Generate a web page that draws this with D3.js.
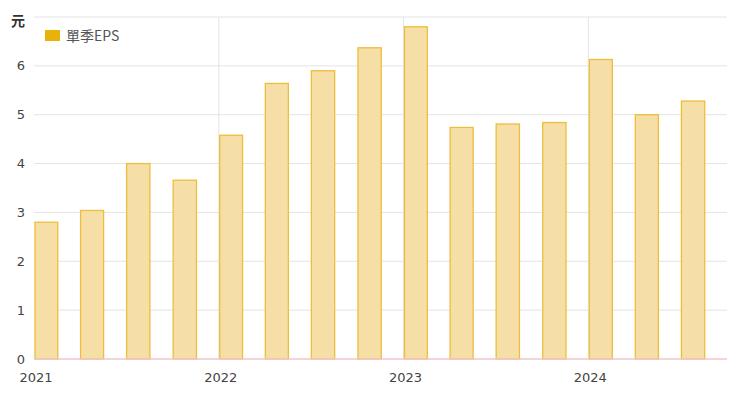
<!DOCTYPE html>
<html>
<head>
<meta charset="utf-8">
<script src="https://cdn.jsdelivr.net/npm/d3@7"></script>
<style>
  body { margin: 0; background: #fff; }
  text { font-family: "DejaVu Sans", "Noto Sans CJK TC", sans-serif; }
</style>
</head>
<body>
<div id="chart"></div>
<script>
// quarter start dates and single-quarter EPS (元)
const quarters = ["2021-01-01","2021-04-01","2021-07-01","2021-10-01",
                  "2022-01-01","2022-04-01","2022-07-01","2022-10-01",
                  "2023-01-01","2023-04-01","2023-07-01","2023-10-01",
                  "2024-01-01","2024-04-01","2024-07-01"];
const eps = [2.80, 3.04, 4.00, 3.66, 4.58, 5.64, 5.90, 6.37, 6.80, 4.74, 4.81, 4.84, 6.13, 5.00, 5.28];
const yTicks = [0, 1, 2, 3, 4, 5, 6, 7];
const yearTicks = ["2021-01-01", "2022-01-01", "2023-01-01", "2024-01-01"];
const seriesName = "單季EPS";
const unitLabel = "元";

const parse = d3.timeParse("%Y-%m-%d");
const data = quarters.map((q, i) => ({ date: parse(q), value: eps[i] }));

const width = 740, height = 395;
const margin = { top: 17, right: 13, bottom: 36, left: 34 };
const chartWidth = width - margin.left - margin.right;
const chartHeight = height - margin.top - margin.bottom;

const svg = d3.select("#chart").append("svg")
    .attr("width", width)
    .attr("height", height);

const g = svg.append("g")
    .attr("transform", `translate(${margin.left},${margin.top})`);

const x = d3.scaleTime()
    .domain([parse("2021-01-01"), parse("2024-10-01")])
    .range([0, chartWidth]);

const y = d3.scaleLinear()
    .domain([0, 7])
    .range([chartHeight, 0]);

// horizontal grid
g.selectAll("line.hgrid")
    .data(yTicks.filter(d => d > 0))
    .enter().append("line")
    .attr("class", "hgrid")
    .attr("x1", 0).attr("x2", chartWidth)
    .attr("y1", d => y(d)).attr("y2", d => y(d))
    .attr("stroke", "#e4e4e4")
    .attr("stroke-width", 1);

// vertical grid at years
g.selectAll("line.vgrid")
    .data(yearTicks.slice(1).map(parse))
    .enter().append("line")
    .attr("class", "vgrid")
    .attr("x1", d => x(d)).attr("x2", d => x(d))
    .attr("y1", 0).attr("y2", chartHeight)
    .attr("stroke", "#e4e4e4")
    .attr("stroke-width", 1);

// bars: each takes the first half of its quarter
const quarterWidth = d => x(d3.timeMonth.offset(d, 3)) - x(d);
g.selectAll("rect.bar")
    .data(data)
    .enter().append("rect")
    .attr("class", "bar")
    .attr("x", d => x(d.date) + 1)
    .attr("y", d => y(d.value))
    .attr("width", d => quarterWidth(d.date) / 2)
    .attr("height", d => y(0) - y(d.value))
    .attr("fill", "#f6dfa6")
    .attr("stroke", "#efbd3c")
    .attr("stroke-width", 1.3);

// baseline
g.append("line")
    .attr("x1", 0).attr("x2", chartWidth)
    .attr("y1", y(0)).attr("y2", y(0))
    .attr("stroke", "#f0c4cc")
    .attr("stroke-width", 1.5);

// y axis labels
g.selectAll("text.ytick")
    .data(yTicks.filter(d => d < 7))
    .enter().append("text")
    .attr("class", "ytick")
    .attr("x", -9)
    .attr("y", d => y(d))
    .attr("dy", "0.35em")
    .attr("text-anchor", "end")
    .attr("fill", "#444")
    .style("font-size", "13px")
    .text(d => d);

svg.append("text")
    .attr("x", 18)
    .attr("y", 26)
    .attr("text-anchor", "middle")
    .attr("fill", "#333")
    .style("font-size", "14px")
    .style("font-weight", "bold")
    .style("font-family", "'Noto Sans CJK TC', sans-serif")
    .text(unitLabel);

// x axis labels
g.selectAll("text.xtick")
    .data(yearTicks.map(parse))
    .enter().append("text")
    .attr("class", "xtick")
    .attr("x", d => x(d) + 2)
    .attr("y", chartHeight + 23)
    .attr("text-anchor", "middle")
    .attr("fill", "#444")
    .style("font-size", "13px")
    .text(d => d3.timeFormat("%Y")(d));

// legend
const legend = svg.append("g").attr("transform", "translate(45,30)");
legend.append("rect")
    .attr("width", 15).attr("height", 11)
    .attr("fill", "#e8b10c");
legend.append("text")
    .attr("x", 21).attr("y", 11)
    .attr("fill", "#555")
    .style("font-size", "14px")
    .style("font-family", "'Noto Sans CJK TC', 'DejaVu Sans', sans-serif")
    .text(seriesName);
</script>
</body>
</html>
